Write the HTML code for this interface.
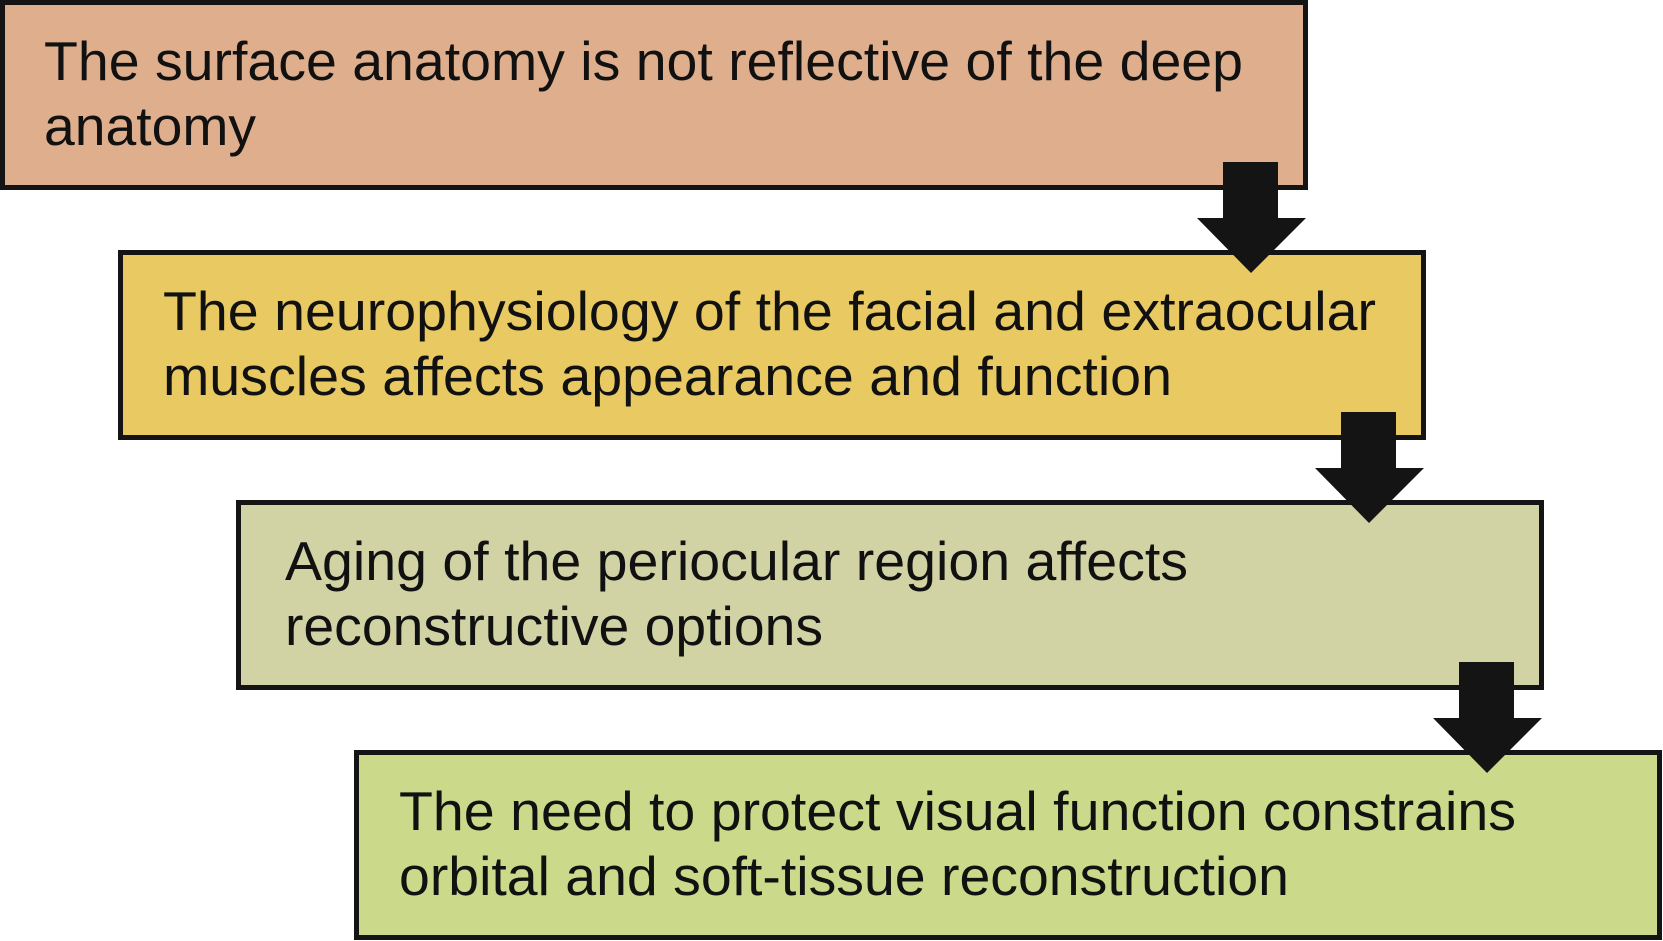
<!DOCTYPE html>
<html><head><style>html,body{margin:0;padding:0;background:#fff;}svg{display:block}</style></head>
<body>
<svg width="1663" height="941" viewBox="0 0 1663 941" xmlns="http://www.w3.org/2000/svg" font-family="Liberation Sans, sans-serif" font-size="55" fill="#111">
<g stroke="#141414" stroke-width="5">
<rect x="2.5" y="2.5" width="1303" height="185" fill="#deae8d"/>
<rect x="120.5" y="252.5" width="1303" height="185" fill="#e8c962"/>
<rect x="238.5" y="502.5" width="1303" height="185" fill="#d2d3a5"/>
<rect x="356.5" y="752.5" width="1303" height="185" fill="#cad98a"/>
</g>
<g fill="#141414">
<polygon points="1223,162 1278,162 1278,218 1306,218 1251,273 1197,218 1223,218"/>
<polygon points="1341,412 1396,412 1396,468 1424,468 1369,523 1315,468 1341,468"/>
<polygon points="1459,662 1514,662 1514,718 1542,718 1487,773 1433,718 1459,718"/>
</g>
<text x="44" y="80" textLength="1199" lengthAdjust="spacingAndGlyphs">The surface anatomy is not reflective of the deep</text>
<text x="44" y="145" textLength="212" lengthAdjust="spacingAndGlyphs">anatomy</text>
<text x="163" y="330" textLength="1213" lengthAdjust="spacingAndGlyphs">The neurophysiology of the facial and extraocular</text>
<text x="163" y="395" textLength="1009" lengthAdjust="spacingAndGlyphs">muscles affects appearance and function</text>
<text x="285" y="580" textLength="903" lengthAdjust="spacingAndGlyphs">Aging of the periocular region affects</text>
<text x="285" y="645" textLength="538" lengthAdjust="spacingAndGlyphs">reconstructive options</text>
<text x="399" y="830" textLength="1117" lengthAdjust="spacingAndGlyphs">The need to protect visual function constrains</text>
<text x="399" y="895" textLength="890" lengthAdjust="spacingAndGlyphs">orbital and soft-tissue reconstruction</text>
</svg>
</body></html>
